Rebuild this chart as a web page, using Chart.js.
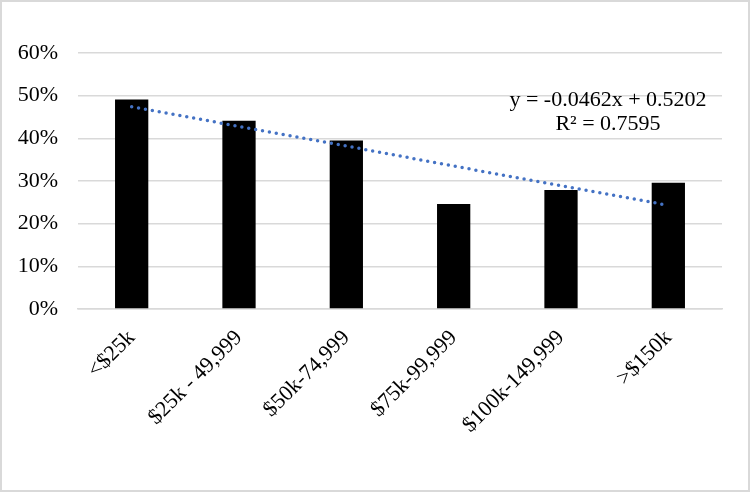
<!DOCTYPE html>
<html>
<head>
<meta charset="utf-8">
<script src="https://cdn.jsdelivr.net/npm/chart.js@4"></script>
<style>
    body { margin: 0; background: #fff; }
    #box { width: 750px; height: 492px; box-sizing: border-box; border: 2px solid #d9d9d9; }
</style>
</head>
<body>
<div id="box"><canvas id="myChart" width="746" height="488"></canvas></div>
<script>
// values
var categorias = ['<$25k', '$25k - 49,999', '$50k-74,999', '$75k-99,999', '$100k-149,999', '>$150k'];
var valores = [0.491, 0.441, 0.395, 0.246, 0.279, 0.296];
var tendencia = [0.474, 0.428, 0.382, 0.335, 0.289, 0.243];
var equacao = ['y = -0.0462x + 0.5202', 'R\u00b2 = 0.7595'];

var fonte = { family: '"Liberation Serif", "Times New Roman", serif', size: 22 };

var textoEquacao = {
    id: 'textoEquacao',
    afterDatasetsDraw: function(chart){
        var ctx = chart.ctx;
        var area = chart.chartArea;
        ctx.save();
        ctx.font = '22px "Liberation Serif", serif';
        ctx.fillStyle = '#000';
        ctx.textAlign = 'center';
        ctx.textBaseline = 'alphabetic';
        ctx.fillText(equacao[0], area.right - 114, area.top + 53);
        ctx.fillText(equacao[1], area.right - 114, area.top + 77);
        ctx.restore();
    }
};

function grafico(){
    var ctx = document.getElementById('myChart');
    var myChart = new Chart(ctx, {
        data: {
            labels: categorias,
            datasets: [{
                type: 'line',
                label: 'tendencia',
                data: tendencia,
                borderColor: '#4472C4',
                borderWidth: 3.5,
                borderDash: [0, 7],
                borderCapStyle: 'round',
                pointRadius: 0,
                fill: false,
                order: 0
            }, {
                type: 'bar',
                label: 'valores',
                data: valores,
                backgroundColor: '#000000',
                categoryPercentage: 1,
                barPercentage: 0.31,
                order: 1
            }]
        },
        plugins: [textoEquacao],
        options: {
            responsive: false,
            animation: false,
            layout: { padding: { top: 51, right: 26, left: 0, bottom: 0 } },
            plugins: {
                legend: { display: false },
                tooltip: { enabled: false }
            },
            scales: {
                x: {
                    grid: { display: false },
                    border: { color: '#d9d9d9', width: 1.5 },
                    ticks: {
                        color: '#000',
                        font: fonte,
                        minRotation: 45,
                        maxRotation: 45,
                        padding: 8
                    },
                    afterFit: function(scale){ scale.height = 181; }
                },
                y: {
                    min: 0,
                    max: 0.6,
                    grid: { color: '#d9d9d9', lineWidth: 1.5, drawTicks: false },
                    border: { display: false },
                    ticks: {
                        stepSize: 0.1,
                        color: '#000',
                        font: fonte,
                        padding: 20,
                        callback: function(v){ return Math.round(v * 100) + '%'; }
                    },
                    afterFit: function(scale){ scale.width = 76; }
                }
            }
        }
    });
}

grafico();
</script>
</body>
</html>
